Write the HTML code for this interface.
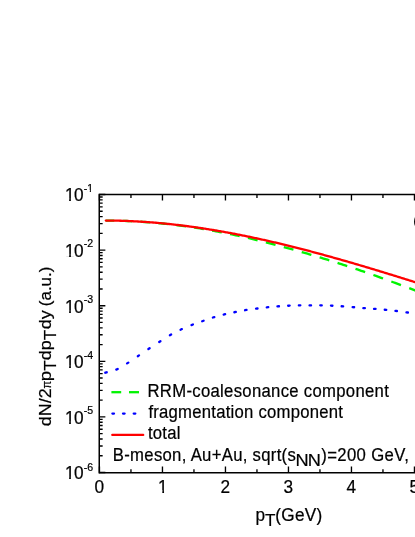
<!DOCTYPE html>
<html><head><meta charset="utf-8"><title>plot</title>
<style>html,body{margin:0;padding:0;background:#fff;}body{width:415px;height:537px;overflow:hidden;}svg{display:block;}svg{will-change:transform;}text{font-family:"Liberation Sans",sans-serif;fill:#000;}</style></head><body>
<svg width="415" height="537" viewBox="0 0 415 537">
<rect width="415" height="537" fill="#fff"/>
<path d="M105.80,220.60 L107.49,220.61 L109.18,220.61 L110.87,220.63 L112.56,220.65 L114.25,220.67 M122.52,220.87 L124.45,220.94 L126.38,221.01 L128.31,221.09 L130.24,221.17 L132.17,221.26 M140.44,221.73 L142.37,221.85 L144.30,221.99 L146.23,222.13 L148.16,222.27 L150.09,222.42 M158.36,223.14 L160.29,223.33 L162.22,223.52 L164.15,223.72 L166.08,223.92 L168.01,224.13 M176.28,225.09 L178.21,225.34 L180.14,225.58 L182.07,225.84 L184.00,226.09 L185.93,226.36 M194.20,227.55 L196.13,227.84 L198.06,228.14 L199.99,228.45 L201.92,228.77 L203.85,229.09 M212.12,230.56 L214.05,230.92 L215.98,231.28 L217.91,231.64 L219.84,232.01 L221.77,232.39 M230.04,234.05 L231.97,234.46 L233.90,234.86 L235.83,235.28 L237.76,235.69 L239.69,236.12 M247.96,237.98 L249.89,238.43 L251.82,238.88 L253.75,239.33 L255.68,239.79 L257.61,240.26 M265.88,242.32 L267.81,242.81 L269.74,243.30 L271.67,243.80 L273.60,244.30 L275.53,244.81 M283.80,247.03 L285.73,247.56 L287.66,248.10 L289.59,248.63 L291.52,249.17 L293.45,249.70 M301.72,252.03 L303.65,252.58 L305.58,253.14 L307.51,253.70 L309.44,254.27 L311.37,254.84 M319.64,257.34 L321.57,257.93 L323.50,258.53 L325.43,259.12 L327.36,259.72 L329.29,260.33 M337.56,262.95 L339.49,263.57 L341.42,264.20 L343.35,264.82 L345.28,265.45 L347.21,266.07 M355.48,268.81 L357.41,269.46 L359.34,270.11 L361.27,270.77 L363.20,271.43 L365.13,272.09 M373.40,275.00 L375.33,275.69 L377.26,276.39 L379.19,277.08 L381.12,277.78 L383.05,278.48 M391.32,281.52 L393.25,282.23 L395.18,282.95 L397.11,283.67 L399.04,284.38 L400.97,285.09 M409.24,288.18 L411.17,288.91 L413.10,289.64 L415.03,290.38 L416.96,291.12 L418.89,291.87" fill="none" stroke="#00f400" stroke-width="2.35"/>
<line x1="105.28" y1="372.71" x2="106.72" y2="372.29" stroke="#0000ff" stroke-width="2.3" stroke-linecap="round"/>
<line x1="116.31" y1="369.60" x2="117.69" y2="369.00" stroke="#0000ff" stroke-width="2.3" stroke-linecap="round"/>
<line x1="127.07" y1="363.40" x2="128.33" y2="362.60" stroke="#0000ff" stroke-width="2.3" stroke-linecap="round"/>
<line x1="137.78" y1="356.22" x2="139.02" y2="355.38" stroke="#0000ff" stroke-width="2.3" stroke-linecap="round"/>
<line x1="148.38" y1="349.01" x2="149.62" y2="348.19" stroke="#0000ff" stroke-width="2.3" stroke-linecap="round"/>
<line x1="159.17" y1="342.00" x2="160.43" y2="341.20" stroke="#0000ff" stroke-width="2.3" stroke-linecap="round"/>
<line x1="169.85" y1="335.27" x2="171.15" y2="334.53" stroke="#0000ff" stroke-width="2.3" stroke-linecap="round"/>
<line x1="180.52" y1="329.72" x2="181.88" y2="329.08" stroke="#0000ff" stroke-width="2.3" stroke-linecap="round"/>
<line x1="191.50" y1="325.07" x2="192.90" y2="324.53" stroke="#0000ff" stroke-width="2.3" stroke-linecap="round"/>
<line x1="202.19" y1="321.25" x2="203.61" y2="320.75" stroke="#0000ff" stroke-width="2.3" stroke-linecap="round"/>
<line x1="212.88" y1="317.52" x2="214.32" y2="317.08" stroke="#0000ff" stroke-width="2.3" stroke-linecap="round"/>
<line x1="223.67" y1="314.58" x2="225.13" y2="314.22" stroke="#0000ff" stroke-width="2.3" stroke-linecap="round"/>
<line x1="234.36" y1="312.25" x2="235.84" y2="311.95" stroke="#0000ff" stroke-width="2.3" stroke-linecap="round"/>
<line x1="245.06" y1="310.22" x2="246.54" y2="309.98" stroke="#0000ff" stroke-width="2.3" stroke-linecap="round"/>
<line x1="256.06" y1="308.70" x2="257.54" y2="308.50" stroke="#0000ff" stroke-width="2.3" stroke-linecap="round"/>
<line x1="266.75" y1="307.28" x2="268.25" y2="307.12" stroke="#0000ff" stroke-width="2.3" stroke-linecap="round"/>
<line x1="277.45" y1="306.35" x2="278.95" y2="306.25" stroke="#0000ff" stroke-width="2.3" stroke-linecap="round"/>
<line x1="288.15" y1="305.73" x2="289.65" y2="305.67" stroke="#0000ff" stroke-width="2.3" stroke-linecap="round"/>
<line x1="298.85" y1="305.41" x2="300.35" y2="305.39" stroke="#0000ff" stroke-width="2.3" stroke-linecap="round"/>
<line x1="309.55" y1="305.40" x2="311.05" y2="305.40" stroke="#0000ff" stroke-width="2.3" stroke-linecap="round"/>
<line x1="320.25" y1="305.39" x2="321.75" y2="305.41" stroke="#0000ff" stroke-width="2.3" stroke-linecap="round"/>
<line x1="330.95" y1="305.67" x2="332.45" y2="305.73" stroke="#0000ff" stroke-width="2.3" stroke-linecap="round"/>
<line x1="341.65" y1="306.25" x2="343.15" y2="306.35" stroke="#0000ff" stroke-width="2.3" stroke-linecap="round"/>
<line x1="352.65" y1="307.14" x2="354.15" y2="307.26" stroke="#0000ff" stroke-width="2.3" stroke-linecap="round"/>
<line x1="363.35" y1="308.04" x2="364.85" y2="308.16" stroke="#0000ff" stroke-width="2.3" stroke-linecap="round"/>
<line x1="374.05" y1="308.84" x2="375.55" y2="308.96" stroke="#0000ff" stroke-width="2.3" stroke-linecap="round"/>
<line x1="384.75" y1="309.73" x2="386.25" y2="309.87" stroke="#0000ff" stroke-width="2.3" stroke-linecap="round"/>
<line x1="395.46" y1="310.81" x2="396.94" y2="310.99" stroke="#0000ff" stroke-width="2.3" stroke-linecap="round"/>
<line x1="406.46" y1="312.30" x2="407.94" y2="312.50" stroke="#0000ff" stroke-width="2.3" stroke-linecap="round"/>
<path d="M105.80,220.56 L107.00,220.56 L108.00,220.56 L109.00,220.57 L110.00,220.57 L111.00,220.58 L112.00,220.59 L113.00,220.61 L114.00,220.62 L115.00,220.64 L116.00,220.66 L117.00,220.68 L118.00,220.70 L119.00,220.72 L120.00,220.74 L121.00,220.77 L122.00,220.80 L123.00,220.83 L124.00,220.86 L125.00,220.90 L126.00,220.93 L127.00,220.97 L128.00,221.01 L129.00,221.05 L130.00,221.09 L131.00,221.13 L132.00,221.18 L133.00,221.23 L134.00,221.28 L135.00,221.33 L136.00,221.38 L137.00,221.43 L138.00,221.49 L139.00,221.54 L140.00,221.60 L141.00,221.66 L142.00,221.73 L143.00,221.79 L144.00,221.86 L145.00,221.92 L146.00,221.99 L147.00,222.06 L148.00,222.13 L149.00,222.21 L150.00,222.28 L151.00,222.36 L152.00,222.44 L153.00,222.52 L154.00,222.60 L155.00,222.68 L156.00,222.76 L157.00,222.85 L158.00,222.94 L159.00,223.03 L160.00,223.12 L161.00,223.21 L162.00,223.30 L163.00,223.40 L164.00,223.50 L165.00,223.59 L166.00,223.69 L167.00,223.80 L168.00,223.90 L169.00,224.00 L170.00,224.11 L171.00,224.22 L172.00,224.32 L173.00,224.44 L174.00,224.55 L175.00,224.66 L176.00,224.77 L177.00,224.89 L178.00,225.01 L179.00,225.13 L180.00,225.25 L181.00,225.37 L182.00,225.49 L183.00,225.62 L184.00,225.74 L185.00,225.87 L186.00,226.00 L187.00,226.13 L188.00,226.26 L189.00,226.40 L190.00,226.53 L191.00,226.67 L192.00,226.80 L193.00,226.94 L194.00,227.08 L195.00,227.22 L196.00,227.37 L197.00,227.51 L198.00,227.66 L199.00,227.80 L200.00,227.95 L201.00,228.10 L202.00,228.25 L203.00,228.40 L204.00,228.56 L205.00,228.71 L206.00,228.87 L207.00,229.03 L208.00,229.18 L209.00,229.34 L210.00,229.51 L211.00,229.67 L212.00,229.83 L213.00,230.00 L214.00,230.16 L215.00,230.33 L216.00,230.50 L217.00,230.67 L218.00,230.84 L219.00,231.01 L220.00,231.19 L221.00,231.36 L222.00,231.54 L223.00,231.72 L224.00,231.89 L225.00,232.07 L226.00,232.26 L227.00,232.44 L228.00,232.62 L229.00,232.81 L230.00,232.99 L231.00,233.18 L232.00,233.37 L233.00,233.56 L234.00,233.75 L235.00,233.94 L236.00,234.13 L237.00,234.32 L238.00,234.52 L239.00,234.72 L240.00,234.91 L241.00,235.11 L242.00,235.31 L243.00,235.51 L244.00,235.71 L245.00,235.92 L246.00,236.12 L247.00,236.33 L248.00,236.53 L249.00,236.74 L250.00,236.95 L251.00,237.16 L252.00,237.37 L253.00,237.58 L254.00,237.79 L255.00,238.01 L256.00,238.22 L257.00,238.44 L258.00,238.65 L259.00,238.87 L260.00,239.09 L261.00,239.31 L262.00,239.53 L263.00,239.75 L264.00,239.98 L265.00,240.20 L266.00,240.42 L267.00,240.65 L268.00,240.88 L269.00,241.10 L270.00,241.33 L271.00,241.56 L272.00,241.79 L273.00,242.03 L274.00,242.26 L275.00,242.49 L276.00,242.73 L277.00,242.96 L278.00,243.20 L279.00,243.44 L280.00,243.67 L281.00,243.91 L282.00,244.15 L283.00,244.39 L284.00,244.64 L285.00,244.88 L286.00,245.12 L287.00,245.37 L288.00,245.61 L289.00,245.86 L290.00,246.11 L291.00,246.36 L292.00,246.60 L293.00,246.85 L294.00,247.10 L295.00,247.36 L296.00,247.61 L297.00,247.86 L298.00,248.12 L299.00,248.37 L300.00,248.63 L301.00,248.88 L302.00,249.14 L303.00,249.40 L304.00,249.66 L305.00,249.92 L306.00,250.18 L307.00,250.44 L308.00,250.70 L309.00,250.96 L310.00,251.23 L311.00,251.49 L312.00,251.76 L313.00,252.02 L314.00,252.29 L315.00,252.56 L316.00,252.82 L317.00,253.09 L318.00,253.36 L319.00,253.63 L320.00,253.90 L321.00,254.18 L322.00,254.45 L323.00,254.72 L324.00,255.00 L325.00,255.27 L326.00,255.54 L327.00,255.82 L328.00,256.10 L329.00,256.37 L330.00,256.65 L331.00,256.93 L332.00,257.21 L333.00,257.49 L334.00,257.77 L335.00,258.05 L336.00,258.33 L337.00,258.62 L338.00,258.90 L339.00,259.18 L340.00,259.47 L341.00,259.75 L342.00,260.04 L343.00,260.32 L344.00,260.61 L345.00,260.90 L346.00,261.18 L347.00,261.47 L348.00,261.76 L349.00,262.05 L350.00,262.34 L351.00,262.63 L352.00,262.92 L353.00,263.21 L354.00,263.51 L355.00,263.80 L356.00,264.09 L357.00,264.39 L358.00,264.68 L359.00,264.98 L360.00,265.27 L361.00,265.57 L362.00,265.86 L363.00,266.16 L364.00,266.46 L365.00,266.76 L366.00,267.05 L367.00,267.35 L368.00,267.65 L369.00,267.95 L370.00,268.25 L371.00,268.55 L372.00,268.85 L373.00,269.16 L374.00,269.46 L375.00,269.76 L376.00,270.06 L377.00,270.37 L378.00,270.67 L379.00,270.97 L380.00,271.28 L381.00,271.58 L382.00,271.89 L383.00,272.20 L384.00,272.50 L385.00,272.81 L386.00,273.11 L387.00,273.42 L388.00,273.73 L389.00,274.04 L390.00,274.35 L391.00,274.65 L392.00,274.96 L393.00,275.27 L394.00,275.58 L395.00,275.89 L396.00,276.20 L397.00,276.51 L398.00,276.82 L399.00,277.14 L400.00,277.45 L401.00,277.76 L402.00,278.07 L403.00,278.38 L404.00,278.70 L405.00,279.01 L406.00,279.32 L407.00,279.64 L408.00,279.95 L409.00,280.26 L410.00,280.58 L411.00,280.89 L412.00,281.21 L413.00,281.52 L414.00,281.84 L415.00,282.15 L416.00,282.47 L417.00,282.79 L418.00,283.10 L419.00,283.42" fill="none" stroke="#ff0000" stroke-width="2.3" stroke-linecap="round"/>
<g stroke="#000" fill="none">
<path d="M99.25,193.75 L99.25,473.46999999999997" stroke-width="1.5"/>
<path d="M99.46,194.5 L417,194.5" stroke-width="1.5"/>
<path d="M99.46,472.7 L417,472.7" stroke-width="1.55"/>
<path d="M99.46,472.7 v-6.1 M99.46,194.5 v6.1 M130.96,472.7 v-3.4 M130.96,194.5 v3.4 M162.46,472.7 v-6.1 M162.46,194.5 v6.1 M193.96,472.7 v-3.4 M193.96,194.5 v3.4 M225.46,472.7 v-6.1 M225.46,194.5 v6.1 M256.96,472.7 v-3.4 M256.96,194.5 v3.4 M288.46,472.7 v-6.1 M288.46,194.5 v6.1 M319.96,472.7 v-3.4 M319.96,194.5 v3.4 M351.46,472.7 v-6.1 M351.46,194.5 v6.1 M382.96,472.7 v-3.4 M382.96,194.5 v3.4 M414.46,472.7 v-6.1 M414.46,194.5 v6.1 M99.46,194.50 h5.8999999999999995 M99.46,233.36 h3.1999999999999997 M99.46,223.57 h3.1999999999999997 M99.46,216.63 h3.1999999999999997 M99.46,211.24 h3.1999999999999997 M99.46,206.83 h3.1999999999999997 M99.46,203.11 h3.1999999999999997 M99.46,199.89 h3.1999999999999997 M99.46,197.04 h3.1999999999999997 M99.46,250.10 h5.8999999999999995 M99.46,288.96 h3.1999999999999997 M99.46,279.17 h3.1999999999999997 M99.46,272.23 h3.1999999999999997 M99.46,266.84 h3.1999999999999997 M99.46,262.43 h3.1999999999999997 M99.46,258.71 h3.1999999999999997 M99.46,255.49 h3.1999999999999997 M99.46,252.64 h3.1999999999999997 M99.46,305.70 h5.8999999999999995 M99.46,344.56 h3.1999999999999997 M99.46,334.77 h3.1999999999999997 M99.46,327.83 h3.1999999999999997 M99.46,322.44 h3.1999999999999997 M99.46,318.03 h3.1999999999999997 M99.46,314.31 h3.1999999999999997 M99.46,311.09 h3.1999999999999997 M99.46,308.24 h3.1999999999999997 M99.46,361.30 h5.8999999999999995 M99.46,400.16 h3.1999999999999997 M99.46,390.37 h3.1999999999999997 M99.46,383.43 h3.1999999999999997 M99.46,378.04 h3.1999999999999997 M99.46,373.63 h3.1999999999999997 M99.46,369.91 h3.1999999999999997 M99.46,366.69 h3.1999999999999997 M99.46,363.84 h3.1999999999999997 M99.46,416.90 h5.8999999999999995 M99.46,455.76 h3.1999999999999997 M99.46,445.97 h3.1999999999999997 M99.46,439.03 h3.1999999999999997 M99.46,433.64 h3.1999999999999997 M99.46,429.23 h3.1999999999999997 M99.46,425.51 h3.1999999999999997 M99.46,422.29 h3.1999999999999997 M99.46,419.44 h3.1999999999999997 M99.46,472.50 h5.8999999999999995" stroke-width="1.35"/>
</g>
<g stroke="#000" stroke-width="0.21">
<text transform="translate(64.9,201.00) scale(1,1.075)" font-size="17.25">1</text>
<text transform="translate(73.89,201.00) scale(1,1.075)" font-size="17.25">0</text>
<text transform="translate(83.7,192.20) scale(1,1.075)" font-size="10.6">-1</text>
<text transform="translate(64.9,256.50) scale(1,1.075)" font-size="17.25">1</text>
<text transform="translate(73.89,256.50) scale(1,1.075)" font-size="17.25">0</text>
<text transform="translate(83.7,246.90) scale(1,1.075)" font-size="10.6">-2</text>
<text transform="translate(64.9,312.70) scale(1,1.075)" font-size="17.25">1</text>
<text transform="translate(73.89,312.70) scale(1,1.075)" font-size="17.25">0</text>
<text transform="translate(83.7,303.40) scale(1,1.075)" font-size="10.6">-3</text>
<text transform="translate(64.9,367.80) scale(1,1.075)" font-size="17.25">1</text>
<text transform="translate(73.89,367.80) scale(1,1.075)" font-size="17.25">0</text>
<text transform="translate(83.7,359.00) scale(1,1.075)" font-size="10.6">-4</text>
<text transform="translate(64.9,423.90) scale(1,1.075)" font-size="17.25">1</text>
<text transform="translate(73.89,423.90) scale(1,1.075)" font-size="17.25">0</text>
<text transform="translate(83.7,414.00) scale(1,1.075)" font-size="10.6">-5</text>
<text transform="translate(64.9,479.40) scale(1,1.075)" font-size="17.25">1</text>
<text transform="translate(73.89,479.40) scale(1,1.075)" font-size="17.25">0</text>
<text transform="translate(83.7,470.60) scale(1,1.075)" font-size="10.6">-6</text>
<text transform="translate(99.26,492.8) scale(1,1.075)" font-size="17.25" text-anchor="middle">0</text>
<text transform="translate(162.86,492.8) scale(1,1.075)" font-size="17.25" text-anchor="middle">1</text>
<text transform="translate(225.26,492.8) scale(1,1.075)" font-size="17.25" text-anchor="middle">2</text>
<text transform="translate(288.26,492.8) scale(1,1.075)" font-size="17.25" text-anchor="middle">3</text>
<text transform="translate(351.26,492.8) scale(1,1.075)" font-size="17.25" text-anchor="middle">4</text>
<text transform="translate(414.26,492.8) scale(1,1.075)" font-size="17.25" text-anchor="middle">5</text>
<text transform="translate(255.5,520.6) scale(1,1.075)" font-size="17.25">p</text>
<text transform="translate(264.9,526.3) scale(1,0.965)" font-size="17.1">T</text>
<text transform="translate(275.3,520.6) scale(1,1.075)" font-size="17.25" letter-spacing="0.25">(GeV)</text>
<text transform="translate(51.1,426.2) rotate(-90) scale(1.04,1)" font-size="17.25">dN/2</text>
<text transform="translate(51.1,388.5) rotate(-90) scale(0.85,1)" font-size="13">π</text>
<text transform="translate(51.1,381.2) rotate(-90) scale(1.08,1)" font-size="17.25">p</text>
<text transform="translate(55.7,370.7) rotate(-90) scale(1,0.965)" font-size="17.1">T</text>
<text transform="translate(51.1,360.2) rotate(-90) scale(1.04,1)" font-size="17.25">dp</text>
<text transform="translate(55.7,340.25) rotate(-90) scale(1,0.965)" font-size="17.1">T</text>
<text transform="translate(51.1,329.2) rotate(-90) scale(1.04,1)" font-size="17.25">dy</text>
<text transform="translate(51.1,306.2) rotate(-90) scale(0.985,1)" font-size="17.25">(a.u.)</text>
<text transform="translate(147.5,396.8) scale(1,1.075)" font-size="16.7" letter-spacing="0.3">RRM-coalesonance component</text>
<text transform="translate(148.4,417.8) scale(1,1.075)" font-size="16.7" letter-spacing="0.24">fragmentation component</text>
<text transform="translate(148.0,439.0) scale(1,1.075)" font-size="16.7" letter-spacing="0.2">total</text>
<text transform="translate(112.8,460.6) scale(1,1.075)" font-size="16.7" letter-spacing="0.3">B-meson, Au+Au, sqrt(s</text>
<text transform="translate(295.4,465.9) scale(1,0.88)" font-size="18.2">N</text>
<text transform="translate(307.7,465.9) scale(1,0.88)" font-size="18.2">N</text>
<text transform="translate(321.2,460.6) scale(1,1.075)" font-size="16.7" letter-spacing="0.37">)=200 GeV,</text>
</g>
<rect x="65.81" y="198.31" width="3.32" height="3.09" fill="#fff"/>
<rect x="70.87" y="198.31" width="3.18" height="3.09" fill="#fff"/>
<rect x="65.81" y="253.81" width="3.32" height="3.09" fill="#fff"/>
<rect x="70.87" y="253.81" width="3.18" height="3.09" fill="#fff"/>
<rect x="65.81" y="310.01" width="3.32" height="3.09" fill="#fff"/>
<rect x="70.87" y="310.01" width="3.18" height="3.09" fill="#fff"/>
<rect x="65.81" y="365.11" width="3.32" height="3.09" fill="#fff"/>
<rect x="70.87" y="365.11" width="3.18" height="3.09" fill="#fff"/>
<rect x="65.81" y="421.21" width="3.32" height="3.09" fill="#fff"/>
<rect x="70.87" y="421.21" width="3.18" height="3.09" fill="#fff"/>
<rect x="65.81" y="476.71" width="3.32" height="3.09" fill="#fff"/>
<rect x="70.87" y="476.71" width="3.18" height="3.09" fill="#fff"/>
<rect x="87.64" y="190.04" width="2.15" height="2.56" fill="#fff"/>
<rect x="90.94" y="190.04" width="2.07" height="2.56" fill="#fff"/>
<rect x="158.98" y="490.11" width="3.32" height="3.09" fill="#fff"/>
<rect x="164.03" y="490.11" width="3.18" height="3.09" fill="#fff"/>
<path d="M415.5,216 Q412.6,221.7 415.5,227.4 Z" fill="#000"/>
<line x1="111.4" y1="392.2" x2="121.2" y2="392.2" stroke="#00f400" stroke-width="2.3"/>
<line x1="129.0" y1="392.2" x2="139.0" y2="392.2" stroke="#00f400" stroke-width="2.3"/>
<line x1="112.4" y1="413.6" x2="114.0" y2="413.6" stroke="#0000ff" stroke-width="2.3" stroke-linecap="round"/>
<line x1="123.0" y1="413.6" x2="124.6" y2="413.6" stroke="#0000ff" stroke-width="2.3" stroke-linecap="round"/>
<line x1="133.7" y1="413.6" x2="135.3" y2="413.6" stroke="#0000ff" stroke-width="2.3" stroke-linecap="round"/>
<line x1="112.3" y1="434.9" x2="143.2" y2="434.9" stroke="#ff0000" stroke-width="2.3" stroke-linecap="round"/>
</svg></body></html>
